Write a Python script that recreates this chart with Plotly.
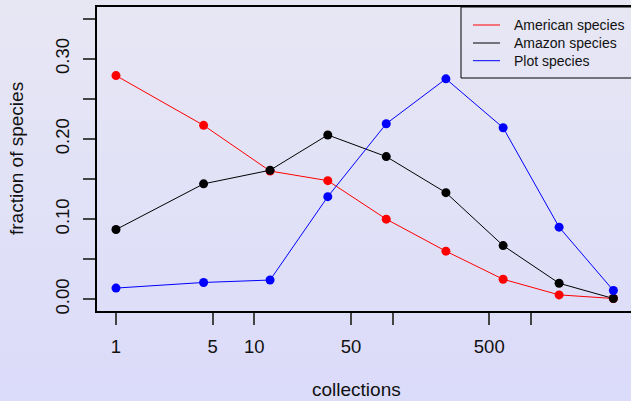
import plotly.graph_objects as go

collections = [1, 4.3, 13, 34, 90, 243, 630, 1600, 3950]
american = [0.279, 0.217, 0.160, 0.148, 0.100, 0.060, 0.025, 0.0055, 0.001]
amazon = [0.087, 0.144, 0.161, 0.205, 0.178, 0.133, 0.067, 0.020, 0.001]
plot_sp = [0.014, 0.021, 0.024, 0.128, 0.219, 0.275, 0.214, 0.090, 0.011]

series_names = ["American species", "Amazon species", "Plot species"]
series_colors = ["#FF0000", "#000000", "#0000FF"]

x_tickvals = [1, 5, 10, 50, 100, 500, 1000]
x_ticktext = ["1", "5", "10", "50", "", "500", ""]
y_tickvals = [0, 0.05, 0.10, 0.15, 0.20, 0.25, 0.30, 0.35]
y_ticktext = ["0.00", "", "0.10", "", "0.20", "", "0.30", ""]
x_title = "collections"
y_title = "fraction of species"

W, H = 631, 401
ML, MT, MB, MR = 97, 7, 90, 0
pw, ph = W - ML - MR, H - MT - MB


def px_x(p):
    return (p - ML) / pw


def px_y(p):
    return 1 - (p - MT) / ph


fig = go.Figure()
for name, ys, col in zip(series_names, [american, amazon, plot_sp], series_colors):
    fig.add_trace(go.Scatter(x=collections, y=ys, mode="lines+markers", name=name,
                             line=dict(color=col, width=1),
                             marker=dict(color=col, size=9),
                             showlegend=False))

# background gradient bands
shapes = []
n = 50
top = (231, 231, 244)
bot = (219, 219, 250)
for i in range(n):
    y0px = H * i / n
    y1px = H * (i + 1) / n + 1
    t = (i + 0.5) / n
    c = tuple(round(top[k] + (bot[k] - top[k]) * t) for k in range(3))
    shapes.append(dict(type="rect", xref="paper", yref="paper", layer="below",
                       x0=px_x(-5), x1=px_x(W + 5),
                       y0=px_y(y1px), y1=px_y(y0px),
                       fillcolor="rgb(%d,%d,%d)" % c, line=dict(width=0)))

font = "Liberation Sans, Arial, sans-serif"
annotations = []
# axis titles
annotations.append(dict(text=x_title, xref="paper", yref="paper",
                        x=px_x(356), y=px_y(389), xanchor="center", yanchor="middle",
                        showarrow=False, font=dict(size=19, color="#111111", family=font)))
annotations.append(dict(text=y_title, xref="paper", yref="paper", textangle=-90,
                        x=px_x(16), y=px_y(159), xanchor="center", yanchor="middle",
                        showarrow=False, font=dict(size=19, color="#111111", family=font)))

# legend box (drawn like the R legend)
shapes.append(dict(type="rect", xref="paper", yref="paper", layer="above",
                   x0=px_x(461), x1=px_x(W + 10), y0=px_y(78), y1=px_y(7),
                   line=dict(color="black", width=1), fillcolor="rgba(0,0,0,0)"))
leg_y = [25, 43, 60.7]
for name, col, yy in zip(series_names, series_colors, leg_y):
    shapes.append(dict(type="line", xref="paper", yref="paper", layer="above",
                       x0=px_x(473), x1=px_x(500), y0=px_y(yy), y1=px_y(yy),
                       line=dict(color=col, width=1)))
    annotations.append(dict(text=name, xref="paper", yref="paper",
                            x=px_x(512), y=px_y(yy), xanchor="left", yanchor="middle",
                            showarrow=False, font=dict(size=14, color="#111111", family=font)))

fig.update_layout(
    width=W, height=H,
    margin=dict(l=ML, r=MR, t=MT, b=MB, autoexpand=False),
    paper_bgcolor="rgb(226,226,247)",
    plot_bgcolor="rgba(0,0,0,0)",
    shapes=shapes,
    annotations=annotations,
    showlegend=False,
    font=dict(family=font, color="#111111"),
    xaxis=dict(type="log", range=[-0.1374, 3.724], automargin=False,
               tickvals=x_tickvals, ticktext=x_ticktext,
               ticks="outside", ticklen=12, tickwidth=1.5, tickcolor="#444444",
               tickfont=dict(size=18.5), ticklabelstandoff=6,
               showgrid=False, zeroline=False,
               showline=True, linecolor="black", linewidth=1.5, mirror=True),
    yaxis=dict(range=[-0.0146, 0.3646], automargin=False,
               tickvals=y_tickvals, ticktext=y_ticktext,
               ticks="outside", ticklen=12, tickwidth=1.5, tickcolor="#444444",
               tickfont=dict(size=18.5), tickangle=-90, ticklabelstandoff=7,
               showgrid=False, zeroline=False,
               showline=True, linecolor="black", linewidth=1.5),
)

fig.write_html("out.html")
